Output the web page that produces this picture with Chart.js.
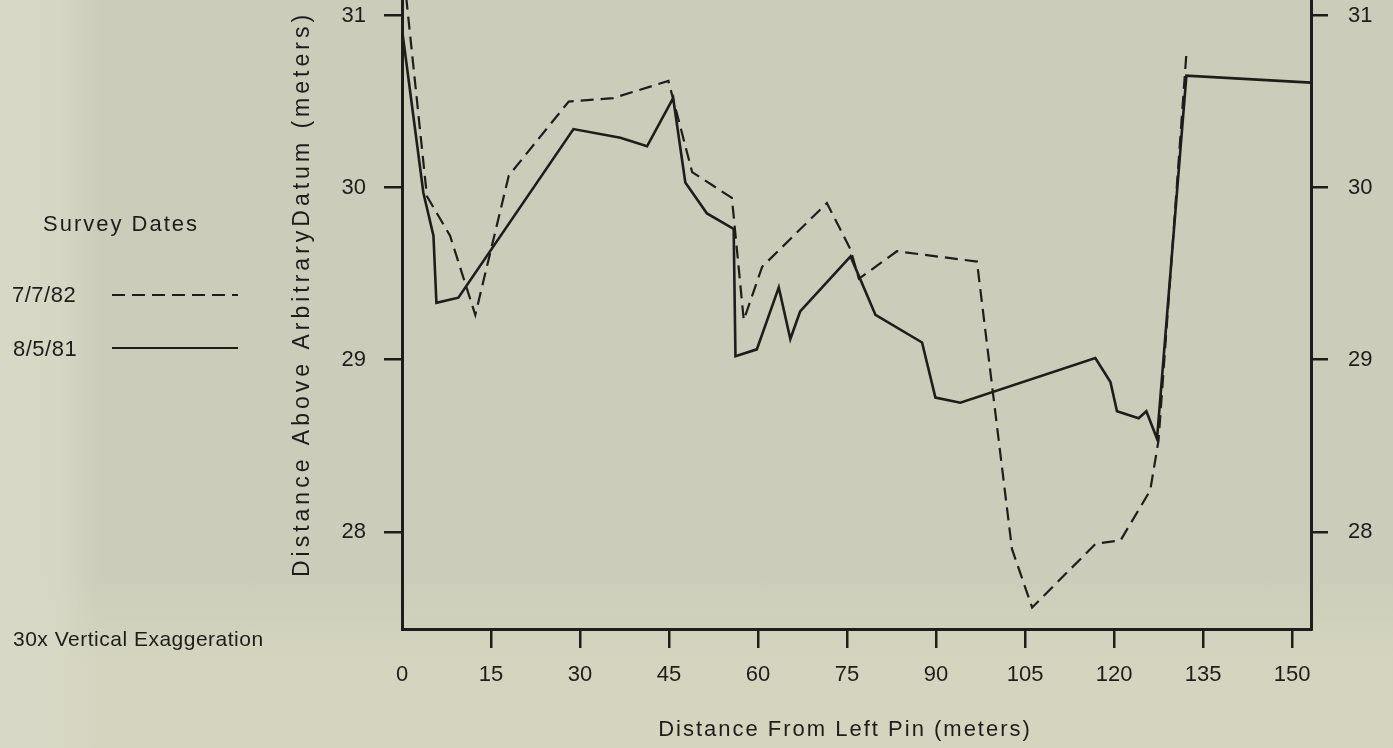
<!DOCTYPE html>
<html>
<head>
<meta charset="utf-8">
<style>
  html, body { margin: 0; padding: 0; }
  body {
    width: 1393px;
    height: 748px;
    overflow: hidden;
    background-color: #cbcdba;
    background-image:
      linear-gradient(90deg, rgba(215, 216, 197, 1) 0px, rgba(215, 216, 197, 0.85) 60px, rgba(215, 216, 197, 0) 100px),
      linear-gradient(180deg, rgba(213, 213, 191, 0) 575px, rgba(213, 213, 191, 0.95) 660px);
  }
</style>
<script src="https://cdn.jsdelivr.net/npm/chart.js@4.4.0/dist/chart.umd.min.js"></script>
</head>
<body>
<canvas id="profile" width="1393" height="748"></canvas>
<script>
const surveyDates = ["7/7/82", "8/5/81"];

// 7/7/82 survey (dashed)
const distJul82 = [0, 4.2, 8.1, 12.35, 18.0, 28.1, 35.6, 44.9, 48.9, 55.6, 57.6, 60.7, 71.6, 75.6, 77.0, 83.4, 96.9, 102.8, 106.2, 116.9, 121.1, 126.1, 127.5, 132.2];
const elevJul82 = [31.34, 29.95, 29.72, 29.26, 30.07, 30.5, 30.52, 30.62, 30.09, 29.94, 29.23, 29.54, 29.91, 29.64, 29.47, 29.63, 29.57, 27.9, 27.56, 27.93, 27.95, 28.24, 28.53, 30.78];

// 8/5/81 survey (solid)
const distAug81 = [0, 3.6, 5.3, 5.8, 9.5, 28.9, 36.8, 41.3, 45.7, 47.75, 51.4, 55.9, 56.2, 59.8, 63.5, 65.45, 67.1, 75.6, 79.8, 87.65, 89.9, 94.1, 116.85, 119.4, 120.5, 124.15, 125.45, 127.25, 132.2, 153.2];
const elevAug81 = [30.92, 29.97, 29.72, 29.33, 29.36, 30.34, 30.29, 30.24, 30.52, 30.03, 29.85, 29.76, 29.02, 29.06, 29.42, 29.12, 29.28, 29.6, 29.26, 29.1, 28.78, 28.75, 29.01, 28.87, 28.7, 28.66, 28.7, 28.54, 30.65, 30.61];

const xTicks = [0, 15, 30, 45, 60, 75, 90, 105, 120, 135, 150];
const yTicks = [28, 29, 30, 31];

const ink = "#1d1d1b";
const family = "'Liberation Sans', Arial, Helvetica, sans-serif";
const dashPattern = [13, 7];

const toPoints = (xs, ys) => xs.map((x, i) => ({ x: x, y: ys[i] }));

// no extra padding from the tick labels, the plot runs off the top of the page
const noPadding = (s) => {
  s.paddingTop = 0;
  s.paddingBottom = 0;
  s.paddingLeft = 0;
  s.paddingRight = 0;
};

// left-margin notes, legend and spaced axis titles
const notes = {
  id: "notes",
  afterDraw(chart) {
    const ctx = chart.ctx;
    ctx.save();
    ctx.fillStyle = ink;
    ctx.strokeStyle = ink;
    ctx.textBaseline = "middle";
    ctx.textAlign = "left";

    ctx.font = "22px " + family;
    ctx.letterSpacing = "2px";
    ctx.fillText("Survey Dates", 43, 225);

    ctx.letterSpacing = "0.5px";
    ctx.fillText(surveyDates[0], 12, 296);
    ctx.fillText(surveyDates[1], 13, 350);

    ctx.lineWidth = 2;
    ctx.setLineDash(dashPattern);
    ctx.beginPath();
    ctx.moveTo(112, 295);
    ctx.lineTo(238, 295);
    ctx.stroke();
    ctx.setLineDash([]);
    ctx.beginPath();
    ctx.moveTo(112, 348);
    ctx.lineTo(238, 348);
    ctx.stroke();

    ctx.font = "21px " + family;
    ctx.letterSpacing = "0.5px";
    ctx.fillText("30x Vertical Exaggeration", 13, 640);

    // x title
    ctx.font = "22px " + family;
    ctx.letterSpacing = "2px";
    ctx.textAlign = "center";
    ctx.fillText("Distance From Left Pin (meters)", 845, 730);

    // y title
    ctx.translate(303, 294);
    ctx.rotate(-Math.PI / 2);
    ctx.font = "23px " + family;
    ctx.letterSpacing = "4px";
    ctx.fillText("Distance Above ArbitraryDatum (meters)", 0, 0);
    ctx.restore();
  },
};

const tickFont = { family: family, size: 22 };

const yAxis = (pos, width, tickLen, pad) => ({
  type: "linear",
  position: pos,
  min: 27.435,
  max: 31.09,
  afterFit: (s) => { s.width = width; noPadding(s); },
  afterBuildTicks: (s) => { s.ticks = yTicks.map((v) => ({ value: v })); },
  ticks: { font: tickFont, color: ink, padding: pad },
  grid: { drawOnChartArea: false, drawTicks: true, tickLength: tickLen, lineWidth: 2.5, color: ink },
  border: { display: true, color: ink, width: 3 },
});

new Chart(document.getElementById("profile"), {
  type: "line",
  data: {
    datasets: [
      {
        label: surveyDates[0],
        data: toPoints(distJul82, elevJul82),
        borderColor: ink,
        borderWidth: 2.2,
        borderDash: dashPattern,
        pointRadius: 0,
        tension: 0,
        fill: false,
      },
      {
        label: surveyDates[1],
        data: toPoints(distAug81, elevAug81),
        borderColor: ink,
        borderWidth: 2.6,
        pointRadius: 0,
        tension: 0,
        fill: false,
      },
    ],
  },
  options: {
    responsive: false,
    animation: false,
    layout: { padding: 0, autoPadding: false },
    plugins: {
      legend: { display: false },
      tooltip: { enabled: false },
    },
    scales: {
      x: {
        type: "linear",
        position: "bottom",
        min: 0,
        max: 153.2,
        afterFit: (s) => { s.height = 119; noPadding(s); },
        afterBuildTicks: (s) => { s.ticks = xTicks.map((v) => ({ value: v })); },
        ticks: { font: tickFont, color: ink, padding: 14, maxRotation: 0, autoSkip: false },
        grid: {
          drawOnChartArea: false,
          drawTicks: true,
          tickLength: 19,
          lineWidth: 2.5,
          color: (c) => (c.tick && c.tick.value === 0 ? "rgba(0,0,0,0)" : ink),
        },
        border: { display: true, color: ink, width: 3 },
      },
      y: yAxis("left", 402, 18, 18),
      y2: yAxis("right", 82, 17, 20),
    },
  },
  plugins: [notes],
});
</script>
</body>
</html>
